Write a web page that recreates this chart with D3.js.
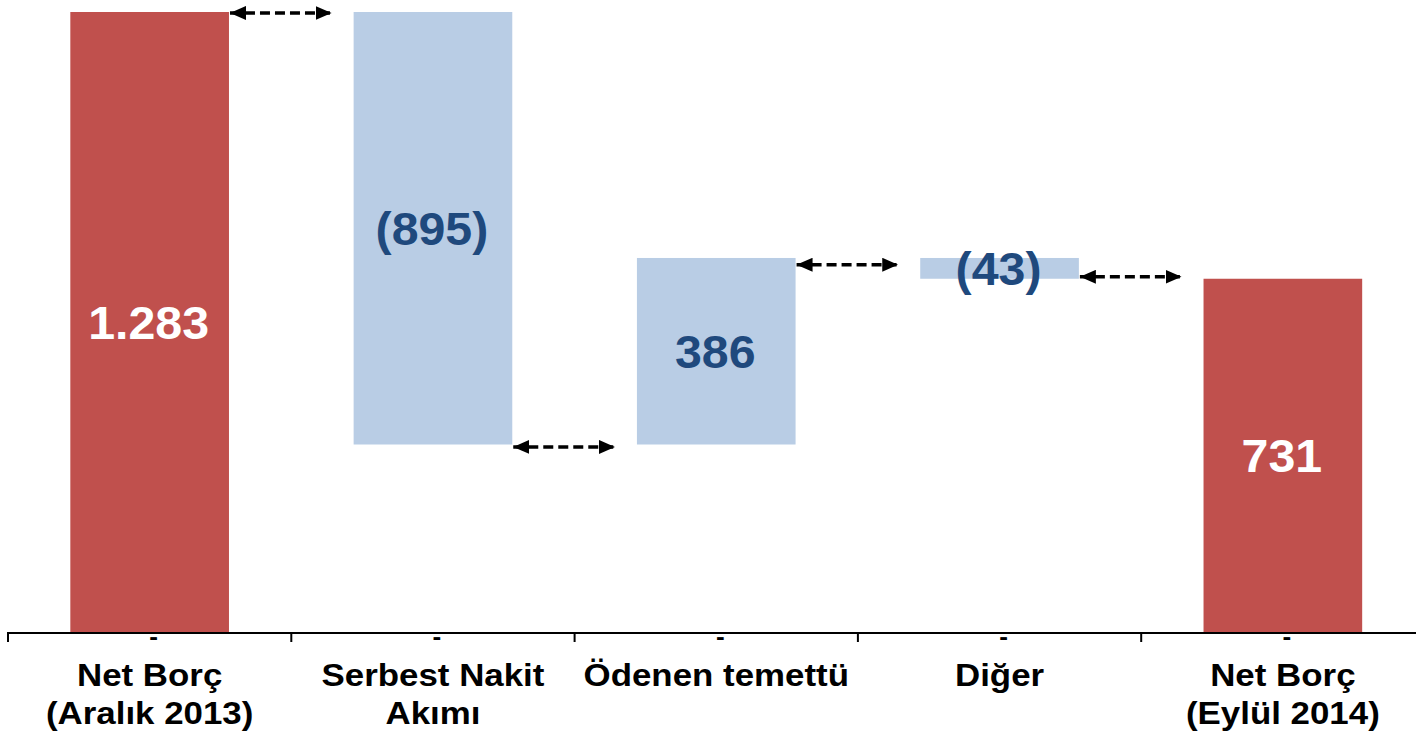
<!DOCTYPE html>
<html>
<head>
<meta charset="utf-8">
<script src="https://cdn.jsdelivr.net/npm/d3@7"></script>
<style>
  html, body { margin: 0; padding: 0; background: #ffffff; }
  svg { display: block; }
  text { font-family: "Liberation Sans", Arial, sans-serif; font-weight: bold; }
</style>
</head>
<body>
<svg id="chart" width="1416" height="736"></svg>
<script>
// Net debt bridge (million TL)
const categories = ["Net Borç\n(Aralık 2013)", "Serbest Nakit\nAkımı", "Ödenen temettü", "Diğer", "Net Borç\n(Eylül 2014)"];
const values = [1283, -895, 386, -43, 731];
const kinds = ["total", "delta", "delta", "delta", "total"];
const tickLabels = ["-", "-", "-", "-", "-"];
// levels where the connector arrows sit between neighbouring bars
const connectorLevels = [1281, 383, 760, 735];

const W = 1416, H = 736;
const svg = d3.select("#chart");
const stretch = 1.09;
const valueStretch = 1.05;

const x = d3.scaleBand().domain(d3.range(categories.length)).range([8, 1424.5]).paddingInner(0).paddingOuter(0);
const y = d3.scaleLinear().domain([0, 1283]).range([632, 12]);
const barW = x.bandwidth() * 0.56;

const tr = d3.formatLocale({ decimal: ",", thousands: ".", grouping: [3], currency: ["", " TL"] });
const fmt = tr.format(",d");

// build waterfall segments
let running = 0;
const bars = values.map((v, i) => {
  let lo, hi;
  if (kinds[i] === "total") { lo = 0; hi = v; running = v; }
  else { const start = running; running += v; lo = Math.min(start, running); hi = Math.max(start, running); }
  return { i, v, lo, hi, kind: kinds[i] };
});

const cx = i => x(i) + x.bandwidth() / 2;

svg.append("g").selectAll("rect").data(bars).join("rect")
  .attr("x", d => cx(d.i) - barW / 2)
  .attr("width", barW)
  .attr("y", d => y(d.hi))
  .attr("height", d => y(d.lo) - y(d.hi))
  .attr("fill", d => d.kind === "total" ? "#C0504D" : "#B9CDE5");

// value labels
svg.append("g").selectAll("text").data(bars).join("text")
  .attr("transform", d => `translate(${cx(d.i) - 1},${(y(d.hi) + y(d.lo)) / 2 + 16.5}) scale(${valueStretch},1)`)
  .attr("text-anchor", "middle")
  .attr("font-size", 46)
  .attr("fill", d => d.kind === "total" ? "#ffffff" : "#1F497D")
  .text(d => d.v < 0 ? `(${fmt(-d.v)})` : fmt(d.v));

// axis
const axis = svg.append("g");
axis.append("line")
  .attr("x1", x.range()[0]).attr("x2", W)
  .attr("y1", y(0) + 1).attr("y2", y(0) + 1)
  .attr("stroke", "#000").attr("stroke-width", 2);
axis.selectAll("line.tick").data(d3.range(categories.length + 1)).join("line")
  .attr("class", "tick")
  .attr("x1", i => x.range()[0] + i * x.step()).attr("x2", i => x.range()[0] + i * x.step())
  .attr("y1", y(0)).attr("y2", y(0) + 10)
  .attr("stroke", "#000").attr("stroke-width", 2);
axis.selectAll("text.dash").data(tickLabels).join("text")
  .attr("class", "dash")
  .attr("transform", (d, i) => `translate(${cx(i) + 4},${y(0) + 13}) scale(${stretch},1)`)
  .attr("text-anchor", "middle")
  .attr("font-size", 24)
  .attr("fill", "#000")
  .text(d => d);

// category labels
const cat = axis.selectAll("text.cat").data(categories).join("text")
  .attr("class", "cat")
  .attr("transform", (d, i) => `translate(${cx(i)},${y(0) + 54}) scale(${stretch},1)`)
  .attr("text-anchor", "middle")
  .attr("font-size", 32)
  .attr("fill", "#000");
cat.each(function (d) {
  d3.select(this).selectAll("tspan").data(d.split("\n")).join("tspan")
    .attr("x", 0).attr("dy", (t, j) => j === 0 ? 0 : 38.5).text(t => t);
});

// dashed double-headed connectors
const defs = svg.append("defs");
["start", "end"].forEach(k => {
  defs.append("marker")
    .attr("id", "head-" + k)
    .attr("viewBox", "0 0 16 14")
    .attr("refX", k === "end" ? 16 : 0).attr("refY", 7)
    .attr("markerWidth", 16).attr("markerHeight", 14)
    .attr("markerUnits", "userSpaceOnUse")
    .attr("orient", "auto")
    .append("path")
    .attr("d", k === "end" ? "M0,0 L16,7 L0,14 Z" : "M16,0 L0,7 L16,14 Z")
    .attr("fill", "#000");
});
svg.append("g").selectAll("line").data(connectorLevels).join("line")
  .attr("x1", (lv, i) => cx(i) + barW / 2 + 1)
  .attr("x2", (lv, i) => cx(i + 1) - barW / 2 - 22)
  .attr("y1", lv => y(lv)).attr("y2", lv => y(lv))
  .attr("stroke", "#000").attr("stroke-width", 3.5)
  .attr("stroke-dasharray", "10,5")
  .attr("marker-start", "url(#head-start)")
  .attr("marker-end", "url(#head-end)");
</script>
</body>
</html>
